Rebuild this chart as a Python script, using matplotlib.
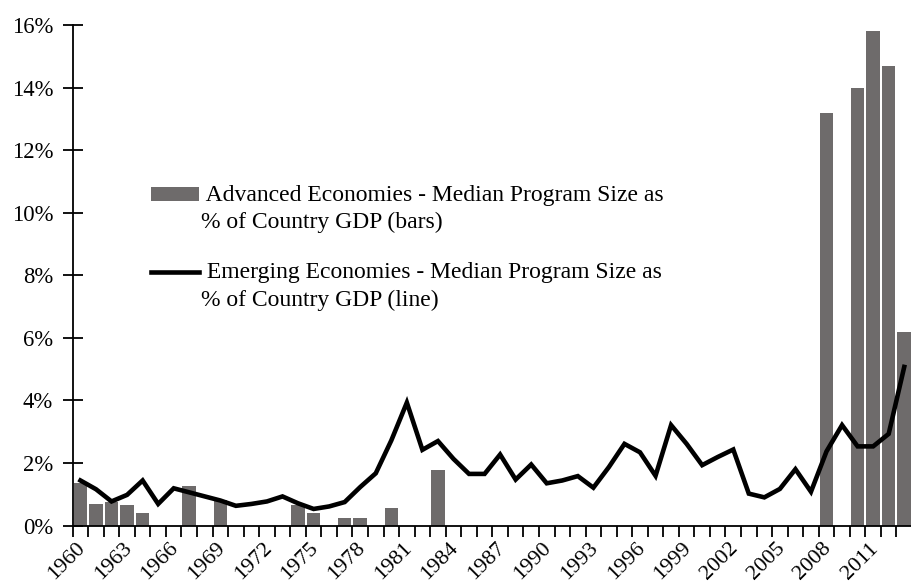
import matplotlib
matplotlib.use("Agg")
import matplotlib.pyplot as plt
import matplotlib.transforms as mtransforms
from matplotlib.legend_handler import HandlerPatch, HandlerLine2D, update_from_first_child
from matplotlib.container import BarContainer
import numpy as np

years = list(range(1960, 2014))

# Advanced economies (bars), % of GDP; years not listed have no bar
adv_years = [1960, 1961, 1962, 1963, 1964, 1967, 1969, 1974, 1975, 1977, 1978,
             1980, 1983, 2008, 2010, 2011, 2012, 2013]
adv_values = [1.35, 0.69, 0.74, 0.66, 0.39, 1.27, 0.82, 0.66, 0.39, 0.25, 0.25,
              0.57, 1.79, 13.2, 14.0, 15.8, 14.7, 6.2]

# Emerging economies (line), % of GDP
emg_values = [1.44, 1.16, 0.77, 0.98, 1.44, 0.69, 1.19, 1.06, 0.93, 0.80,
              0.63, 0.69, 0.77, 0.93, 0.71, 0.53, 0.61, 0.75, 1.23, 1.67,
              2.72, 3.93, 2.42, 2.70, 2.13, 1.65, 1.65, 2.27, 1.47, 1.95,
              1.35, 1.44, 1.58, 1.21, 1.87, 2.61, 2.34, 1.59, 3.21, 2.61,
              1.93, 2.19, 2.43, 1.02, 0.90, 1.17, 1.80, 1.08, 2.37, 3.21,
              2.53, 2.53, 2.93, 5.07]

yticks = [0, 2, 4, 6, 8, 10, 12, 14, 16]
ytick_labels = ["0%", "2%", "4%", "6%", "8%", "10%", "12%", "14%", "16%"]
label_years = list(range(1960, 2012, 3))

adv_label = " Advanced Economies - Median Program Size as\n% of Country GDP (bars)"
emg_label = " Emerging Economies - Median Program Size as\n% of Country GDP (line)"

adv_map = dict(zip(adv_years, adv_values))
bars = [adv_map.get(y, 0.0) for y in years]

plt.rcParams['font.family'] = ['Liberation Serif', 'DejaVu Serif']

HANDLE_SHIFT = 14.5  # pixels: align legend handles with first label line


class TopPatch(HandlerPatch):
    def create_artists(self, legend, orig_handle, xdescent, ydescent,
                       width, height, fontsize, trans):
        t = trans + mtransforms.Affine2D().translate(0, HANDLE_SHIFT)
        return super().create_artists(legend, orig_handle, xdescent, ydescent,
                                      width, height, fontsize, t)


class TopLine(HandlerLine2D):
    def create_artists(self, legend, orig_handle, xdescent, ydescent,
                       width, height, fontsize, trans):
        t = trans + mtransforms.Affine2D().translate(0, HANDLE_SHIFT)
        return super().create_artists(legend, orig_handle, xdescent, ydescent,
                                      width, height, fontsize, t)


fig = plt.figure(figsize=(9.12, 5.86), dpi=100)
ax = fig.add_axes([0.0797, 0.1032, 1.0 - 0.0797, 0.9573 - 0.1032])

x = np.arange(len(years))
bc = ax.bar(x, bars, width=0.87, color='#6e6b6b', label=adv_label)
ln, = ax.plot(x, emg_values, color='black', lw=3.3, solid_joinstyle='miter',
              label=emg_label)

ax.set_xlim(-0.5, 52.99)
ax.set_ylim(0, 16)

for s in ['top', 'right']:
    ax.spines[s].set_visible(False)
for s in ['left', 'bottom']:
    ax.spines[s].set_linewidth(1.3)
    ax.spines[s].set_color('black')

ax.set_yticks(yticks)
ax.set_yticklabels(ytick_labels)
ax.tick_params(axis='y', direction='inout', length=14, width=1.3, labelsize=16.3, pad=7)

ax.set_xticks(np.arange(-0.5, len(years), 1.0))
ax.set_xticklabels([])
ax.tick_params(axis='x', direction='out', length=8, width=1.3)
lab_pos = [years.index(y) for y in label_years]
for p, y in zip(lab_pos, label_years):
    ax.annotate(str(y), xy=(p, 0), xycoords=('data', 'axes fraction'),
                xytext=(1.5, -14.5), textcoords='offset points',
                rotation=45, ha='right', va='center', rotation_mode='anchor',
                fontsize=16, annotation_clip=False)

leg = ax.legend([bc, ln], [adv_label, emg_label],
                handler_map={BarContainer: TopPatch(update_func=update_from_first_child),
                             type(ln): TopLine()},
                loc='upper left', bbox_to_anchor=(0.0825, 0.70), frameon=False,
                fontsize=17, handlelength=2.0, handleheight=0.55,
                handletextpad=0.12, labelspacing=1.25, borderaxespad=0)
for t in leg.get_texts():
    t.set_linespacing(1.38)

fig.savefig("out.png", dpi=100)
